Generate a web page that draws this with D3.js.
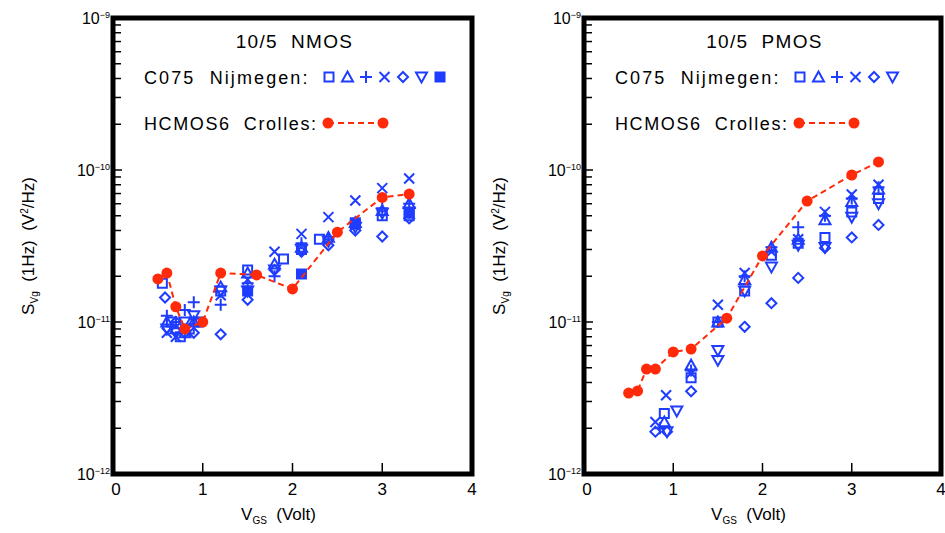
<!DOCTYPE html>
<html>
<head>
<meta charset="utf-8">
<script src="https://cdn.jsdelivr.net/npm/d3@7"></script>
<style>
  body { margin: 0; background: #fff; }
  text { font-family: "Liberation Sans", Arial, sans-serif; fill: #000; }
</style>
</head>
<body>
<script>
// ---- data: [V_GS (Volt), S_Vg (V^2/Hz)] ----
var nmosSquare  = [[0.55,1.8e-11],[0.65,1.0e-11],[0.75,8e-12],[0.85,9e-12],[0.95,1.0e-11],[1.2,1.6e-11],[1.5,2.2e-11],[1.9,2.6e-11],[2.1,3.0e-11],[2.3,3.5e-11],[2.7,4.4e-11],[3.0,5.0e-11],[3.3,5.0e-11]];
var nmosTri     = [[0.6,1.0e-11],[0.7,9e-12],[0.8,8.5e-12],[0.9,1.0e-11],[1.2,1.7e-11],[1.5,2.1e-11],[1.8,2.4e-11],[2.1,3.1e-11],[2.4,3.6e-11],[2.7,4.5e-11],[3.0,5.4e-11],[3.3,6.0e-11]];
var nmosPlus    = [[0.6,1.1e-11],[0.7,1.0e-11],[0.8,1.2e-11],[0.9,1.35e-11],[1.2,1.3e-11],[1.5,1.8e-11],[1.8,2.0e-11],[2.1,3.3e-11],[2.4,3.5e-11],[2.7,4.5e-11],[3.0,5.6e-11],[3.3,6.0e-11]];
var nmosCross   = [[0.6,8.5e-12],[0.7,8e-12],[0.8,9e-12],[0.9,1.0e-11],[1.2,1.5e-11],[1.5,1.9e-11],[1.8,2.9e-11],[2.1,3.8e-11],[2.4,4.9e-11],[2.7,6.3e-11],[3.0,7.6e-11],[3.3,8.8e-11]];
var nmosDiamond = [[0.58,1.45e-11],[0.7,1.0e-11],[0.8,8.5e-12],[0.9,8.5e-12],[1.2,8.3e-12],[1.5,1.4e-11],[1.8,2.2e-11],[2.1,2.9e-11],[2.4,3.2e-11],[2.7,4.0e-11],[3.0,3.65e-11],[3.3,4.8e-11]];
var nmosTriDown = [[0.6,9e-12],[0.7,8.5e-12],[0.8,1.0e-11],[0.9,1.1e-11],[1.2,1.6e-11],[1.5,1.6e-11],[1.8,2.2e-11],[2.1,3.0e-11],[2.4,3.4e-11],[2.7,4.2e-11],[3.0,5.2e-11],[3.3,5.3e-11]];
var nmosFilled  = [[1.5,1.6e-11],[2.1,2.07e-11],[2.7,4.5e-11],[3.3,5.2e-11]];
var nmosCrolles = [[0.5,1.92e-11],[0.6,2.1e-11],[0.7,1.26e-11],[0.8,9.0e-12],[1.0,1.0e-11],[1.2,2.1e-11],[1.6,2.04e-11],[2.0,1.65e-11],[2.5,3.9e-11],[3.0,6.6e-11],[3.3,6.95e-11]];

var pmosSquare  = [[0.9,2.5e-12],[1.2,4.3e-12],[1.5,1.0e-11],[1.8,1.6e-11],[2.1,2.75e-11],[2.4,3.3e-11],[2.7,3.6e-11],[3.0,5.3e-11],[3.3,6.5e-11]];
var pmosTri     = [[0.9,2.2e-12],[1.2,5.2e-12],[1.5,1.0e-11],[1.8,1.9e-11],[2.1,3.1e-11],[2.4,3.5e-11],[2.7,4.7e-11],[3.0,6.2e-11],[3.3,7.5e-11]];
var pmosPlus    = [[0.85,2.0e-12],[1.2,4.8e-12],[1.5,1.0e-11],[1.8,2.0e-11],[2.1,3.1e-11],[2.4,4.2e-11],[2.7,5.0e-11],[3.0,6.5e-11],[3.3,7.7e-11]];
var pmosCross   = [[0.8,2.2e-12],[0.92,3.3e-12],[1.2,4.6e-12],[1.5,1.3e-11],[1.8,2.1e-11],[2.1,2.9e-11],[2.4,3.5e-11],[2.7,5.3e-11],[3.0,6.9e-11],[3.3,8.0e-11]];
var pmosDiamond = [[0.8,1.9e-12],[0.93,1.9e-12],[1.2,3.5e-12],[1.8,9.3e-12],[2.1,1.33e-11],[2.4,1.95e-11],[2.7,3.07e-11],[3.0,3.6e-11],[3.3,4.35e-11]];
var pmosTriDown = [[0.93,1.9e-12],[1.04,2.6e-12],[1.5,6.5e-12],[1.5,5.6e-12],[1.8,1.6e-11],[2.1,2.3e-11],[2.4,3.2e-11],[2.7,3.1e-11],[3.0,4.9e-11],[3.3,6.0e-11]];
var pmosCrolles = [[0.5,3.41e-12],[0.6,3.52e-12],[0.7,4.9e-12],[0.8,4.9e-12],[1.0,6.35e-12],[1.2,6.64e-12],[1.6,1.06e-11],[2.0,2.72e-11],[2.5,6.25e-11],[3.0,9.27e-11],[3.3,1.13e-10]];

var xTicks = [0, 1, 2, 3, 4];
var yDecades = [-12, -11, -10, -9];

var BLUE = "#1f3dff";
var RED = "#ff2a0a";

var svg = d3.select("body").append("svg")
  .attr("width", 945)
  .attr("height", 533);

var y = d3.scaleLog().domain([1e-12, 1e-9]).range([474, 18]);

function markerPath(type) {
  var s;
  switch (type) {
    case "square":
    case "filled":
      s = 4.5; return "M" + -s + "," + -s + "h" + 2*s + "v" + 2*s + "h" + -2*s + "Z";
    case "tri":
      s = 5.5; return "M0," + (-s) + "L" + s + "," + (s*0.8) + "L" + -s + "," + (s*0.8) + "Z";
    case "tridown":
      s = 5.5; return "M" + -s + "," + (-s*0.8) + "L" + s + "," + (-s*0.8) + "L0," + s + "Z";
    case "plus":
      s = 6; return "M" + -s + ",0H" + s + "M0," + -s + "V" + s;
    case "cross":
      s = 5; return "M" + -s + "," + -s + "L" + s + "," + s + "M" + -s + "," + s + "L" + s + "," + -s;
    case "diamond":
      s = 5; return "M0," + -s + "L" + s + ",0L0," + s + "L" + -s + ",0Z";
  }
}

function drawMarker(g, type, px, py) {
  g.append("path")
    .attr("d", markerPath(type))
    .attr("transform", "translate(" + px + "," + py + ")")
    .style("fill", type == "filled" ? BLUE : "none")
    .style("stroke", BLUE)
    .style("stroke-width", 2);
}

function drawPanel(cfg) {
  var x = d3.scaleLinear().domain([0, 4]).range([cfg.left, cfg.right]);
  var g = svg.append("g");

  // minor + major y ticks on the left axis
  for (var d = -12; d < -9; d++) {
    for (var m = 1; m < 10; m++) {
      var ty = y(m * Math.pow(10, d));
      g.append("line")
        .attr("x1", cfg.left).attr("x2", cfg.left + (m == 1 ? 9 : 8))
        .attr("y1", ty).attr("y2", ty)
        .style("stroke", "#000").style("stroke-width", 1.5);
    }
  }

  // x ticks
  xTicks.slice(1, 4).forEach(function(t) {
    g.append("line")
      .attr("x1", x(t)).attr("x2", x(t))
      .attr("y1", 474).attr("y2", 463)
      .style("stroke", "#000").style("stroke-width", 1.5);
  });

  xTicks.forEach(function(t) {
    g.append("text")
      .attr("x", x(t) + (t == 0 ? 3 : 0)).attr("y", 495)
      .attr("text-anchor", "middle")
      .style("font-size", "17px")
      .text(t);
  });

  yDecades.forEach(function(dd) {
    var t = g.append("text")
      .attr("x", cfg.left - 3).attr("y", y(Math.pow(10, dd)) + 6)
      .attr("text-anchor", "end")
      .style("font-size", "16px");
    t.append("tspan").text("10");
    t.append("tspan").attr("dy", -6).style("font-size", "9px").text("\u2212" + (-dd));
  });

  // axis titles
  var xl = g.append("text")
    .attr("x", (cfg.left + cfg.right) / 2 - 14).attr("y", 520)
    .attr("text-anchor", "middle")
    .style("font-size", "17px");
  xl.append("tspan").text("V");
  xl.append("tspan").attr("dy", 4).style("font-size", "10px").text("GS");
  xl.append("tspan").attr("dy", -4).attr("xml:space", "preserve").text("  (Volt)");

  var yl = g.append("text")
    .attr("transform", "translate(" + (cfg.left - 79) + ",246) rotate(-90)")
    .attr("text-anchor", "middle")
    .style("font-size", "17px");
  yl.append("tspan").text("S");
  yl.append("tspan").attr("dy", 4).style("font-size", "10px").text("Vg");
  yl.append("tspan").attr("dy", -4).attr("xml:space", "preserve").text("  (1Hz)  (V");
  yl.append("tspan").attr("dy", -6).style("font-size", "10px").text("2");
  yl.append("tspan").attr("dy", 6).text("/Hz)");

  // Nijmegen data
  cfg.series.forEach(function(s) {
    s.data.forEach(function(p) {
      drawMarker(g, s.type, x(p[0]), y(p[1]));
    });
  });

  // Crolles data
  var line = d3.line().x(function(p) { return x(p[0]); }).y(function(p) { return y(p[1]); });
  g.append("path")
    .attr("d", line(cfg.crolles))
    .style("fill", "none").style("stroke", RED)
    .style("stroke-width", 2).style("stroke-dasharray", "6,4");
  g.selectAll("circle.cr").data(cfg.crolles).enter().append("circle")
    .attr("cx", function(p) { return x(p[0]); })
    .attr("cy", function(p) { return y(p[1]); })
    .attr("r", 5.5)
    .style("fill", RED);

  // legend text
  var cx = (cfg.left + cfg.right) / 2;
  g.append("text").attr("x", cx + 2).attr("y", 48)
    .attr("text-anchor", "middle").attr("xml:space", "preserve")
    .style("font-size", "19px").style("letter-spacing", "1.3px")
    .text(cfg.title);
  g.append("text").attr("x", cfg.left + 31).attr("y", 84)
    .attr("xml:space", "preserve")
    .style("font-size", "18px").style("letter-spacing", "2.1px")
    .text("C075  Nijmegen:");
  g.append("text").attr("x", cfg.left + 31).attr("y", 130)
    .attr("xml:space", "preserve")
    .style("font-size", "18px").style("letter-spacing", "1.6px")
    .text("HCMOS6  Crolles:");

  cfg.series.forEach(function(s, i) {
    drawMarker(g, s.type, cfg.left + 216 + i * 18.5, 77);
  });
  var lx0 = cfg.left + 215, lx1 = cfg.left + 270;
  g.append("line").attr("x1", lx0).attr("x2", lx1).attr("y1", 123).attr("y2", 123)
    .style("stroke", RED).style("stroke-width", 2).style("stroke-dasharray", "6,4");
  [lx0, lx1].forEach(function(lx) {
    g.append("circle").attr("cx", lx).attr("cy", 123).attr("r", 5.5).style("fill", RED);
  });

  // frame
  g.append("rect")
    .attr("x", cfg.left).attr("y", 18)
    .attr("width", cfg.right - cfg.left).attr("height", 474 - 18)
    .style("fill", "none").style("stroke", "#000").style("stroke-width", 5);
}

drawPanel({
  left: 113, right: 472, title: "10/5  NMOS",
  series: [
    { type: "square", data: nmosSquare },
    { type: "tri", data: nmosTri },
    { type: "plus", data: nmosPlus },
    { type: "cross", data: nmosCross },
    { type: "diamond", data: nmosDiamond },
    { type: "tridown", data: nmosTriDown },
    { type: "filled", data: nmosFilled }
  ],
  crolles: nmosCrolles
});

drawPanel({
  left: 584, right: 941, title: "10/5  PMOS",
  series: [
    { type: "square", data: pmosSquare },
    { type: "tri", data: pmosTri },
    { type: "plus", data: pmosPlus },
    { type: "cross", data: pmosCross },
    { type: "diamond", data: pmosDiamond },
    { type: "tridown", data: pmosTriDown }
  ],
  crolles: pmosCrolles
});
</script>
</body>
</html>
